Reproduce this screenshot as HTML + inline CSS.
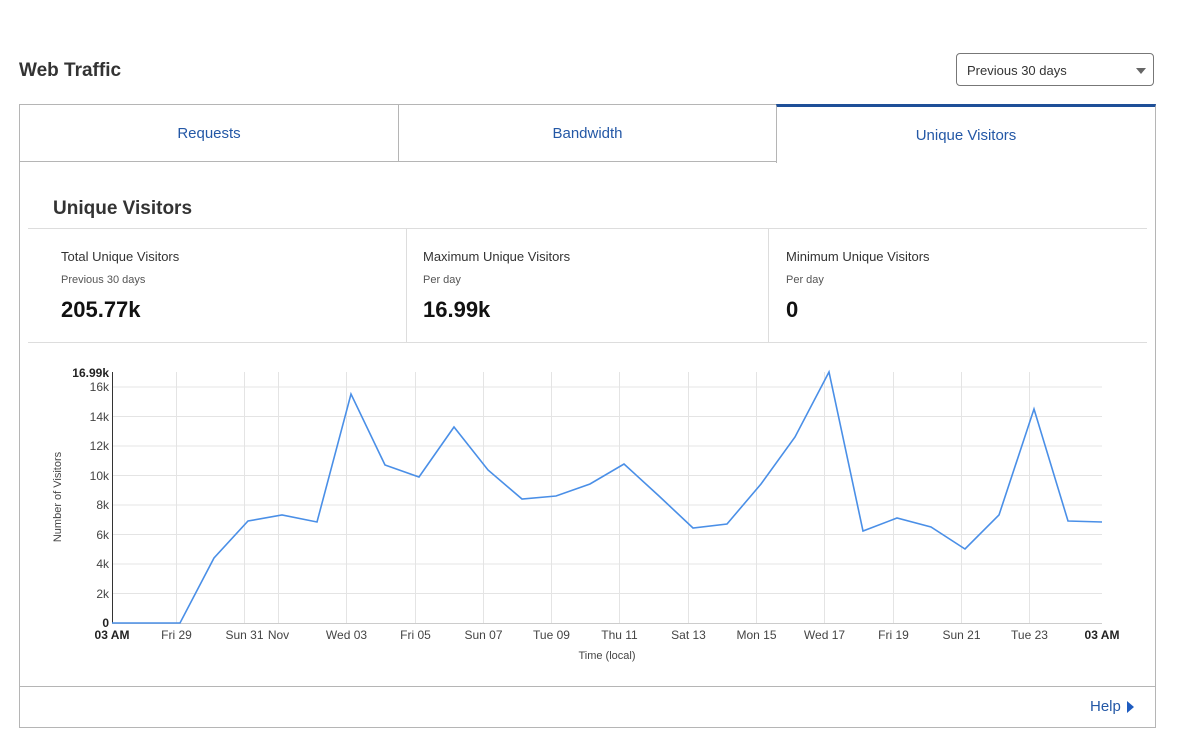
<!DOCTYPE html>
<html><head><meta charset="utf-8"><style>
body{margin:0;width:1180px;height:740px;background:#fff;font-family:"Liberation Sans",sans-serif;color:#222;position:relative;overflow:hidden}
.a{position:absolute}
.tab{position:absolute;top:104px;height:58px;box-sizing:border-box;border:1px solid #b5b5b5;color:#2458a6;font-size:15px;text-align:center;line-height:58px;background:#fff}
.lbl{font-size:13px;color:#333}
.sub{font-size:11px;color:#555}
.big{font-size:22px;color:#111;font-weight:bold}
</style></head><body>
<div class="a" style="left:19px;top:60px;font-size:19px;font-weight:bold;color:#333">Web Traffic</div>
<div class="a" style="left:956px;top:53px;width:198px;height:33px;border:1px solid #777;border-radius:4px;box-sizing:border-box"></div>
<div class="a" style="left:967px;top:63px;font-size:13px;color:#333">Previous 30 days</div>
<div class="a" style="left:1136px;top:68px;width:0;height:0;border-left:5px solid transparent;border-right:5px solid transparent;border-top:6px solid #666"></div>
<div class="a" style="left:19px;top:104px;width:1137px;height:624px;border:1px solid #b5b5b5;box-sizing:border-box"></div>
<div class="tab" style="left:19px;width:380px">Requests</div>
<div class="tab" style="left:398px;width:379px">Bandwidth</div>
<div class="tab" style="left:776px;width:380px;border-top:3px solid #1e4f98;border-bottom:none;line-height:58px;height:59px">Unique Visitors</div>
<div class="a" style="left:53px;top:198px;font-size:19px;font-weight:bold;color:#333">Unique Visitors</div>
<div class="a" style="left:28px;top:228px;width:1119px;border-top:1px solid #ddd"></div>
<div class="a" style="left:28px;top:342px;width:1119px;border-top:1px solid #ddd"></div>
<div class="a" style="left:406px;top:228px;height:114px;border-left:1px solid #ddd"></div>
<div class="a" style="left:768px;top:228px;height:114px;border-left:1px solid #ddd"></div>
<div class="a lbl" style="left:61px;top:249px">Total Unique Visitors</div>
<div class="a sub" style="left:61px;top:274px">Previous 30 days</div>
<div class="a big" style="left:61px;top:297px">205.77k</div>
<div class="a lbl" style="left:423px;top:249px">Maximum Unique Visitors</div>
<div class="a sub" style="left:423px;top:274px">Per day</div>
<div class="a big" style="left:423px;top:297px">16.99k</div>
<div class="a lbl" style="left:786px;top:249px">Minimum Unique Visitors</div>
<div class="a sub" style="left:786px;top:274px">Per day</div>
<div class="a big" style="left:786px;top:297px">0</div>
<svg class="a" style="left:0;top:0" width="1180" height="740" font-family="Liberation Sans, sans-serif">
<g stroke="#e4e4e4" stroke-width="1">
<line x1="112" x2="1102" y1="593.5" y2="593.5"/><line x1="112" x2="1102" y1="564" y2="564"/><line x1="112" x2="1102" y1="534.5" y2="534.5"/><line x1="112" x2="1102" y1="505" y2="505"/><line x1="112" x2="1102" y1="475.5" y2="475.5"/><line x1="112" x2="1102" y1="446" y2="446"/><line x1="112" x2="1102" y1="416.5" y2="416.5"/><line x1="112" x2="1102" y1="387" y2="387"/>
<line y1="372" y2="623" x1="176.5" x2="176.5"/><line y1="372" y2="623" x1="244.5" x2="244.5"/><line y1="372" y2="623" x1="278.5" x2="278.5"/><line y1="372" y2="623" x1="346.5" x2="346.5"/><line y1="372" y2="623" x1="415.5" x2="415.5"/><line y1="372" y2="623" x1="483.5" x2="483.5"/><line y1="372" y2="623" x1="551.5" x2="551.5"/><line y1="372" y2="623" x1="619.5" x2="619.5"/><line y1="372" y2="623" x1="688.5" x2="688.5"/><line y1="372" y2="623" x1="756.5" x2="756.5"/><line y1="372" y2="623" x1="824.5" x2="824.5"/><line y1="372" y2="623" x1="893.5" x2="893.5"/><line y1="372" y2="623" x1="961.5" x2="961.5"/><line y1="372" y2="623" x1="1029.5" x2="1029.5"/>
</g>
<line x1="112.5" x2="112.5" y1="372" y2="623" stroke="#333"/>
<line x1="112" x2="1102" y1="623.5" y2="623.5" stroke="#ccc"/>
<polyline fill="none" stroke="#4a8fe7" stroke-width="1.6" points="112,623 146,623 180,623 214,558 248,521 282,515 317,522 351,394 385,465 419,477 454,427 488,470 522,499 556,496 590,484 624,464 659,496 693,528 727,524 761,484 795,437 829,372 863,531 897,518 931,527 965,549 999,515 1034,409 1068,521 1102,522"/>
<g font-size="12" fill="#444" text-anchor="end">
<text x="109" y="377" font-weight="bold" fill="#222">16.99k</text>
<text x="109" y="391">16k</text><text x="109" y="421">14k</text><text x="109" y="450">12k</text><text x="109" y="480">10k</text><text x="109" y="509">8k</text><text x="109" y="539">6k</text><text x="109" y="568">4k</text><text x="109" y="598">2k</text><text x="109" y="627" font-weight="bold" fill="#222">0</text>
</g>
<g font-size="12" fill="#444" text-anchor="middle">
<text x="112" y="639" font-weight="bold" fill="#222">03 AM</text>
<text x="176.5" y="639">Fri 29</text><text x="244.5" y="639">Sun 31</text><text x="278.5" y="639">Nov</text><text x="346.5" y="639">Wed 03</text><text x="415.5" y="639">Fri 05</text><text x="483.5" y="639">Sun 07</text><text x="551.5" y="639">Tue 09</text><text x="619.5" y="639">Thu 11</text><text x="688.5" y="639">Sat 13</text><text x="756.5" y="639">Mon 15</text><text x="824.5" y="639">Wed 17</text><text x="893.5" y="639">Fri 19</text><text x="961.5" y="639">Sun 21</text><text x="1029.5" y="639">Tue 23</text>
<text x="1102" y="639" font-weight="bold" fill="#222">03 AM</text>
<text x="607" y="659" font-size="11">Time (local)</text>
<text transform="translate(61,497) rotate(-90)" font-size="11">Number of Visitors</text>
</g>
</svg>
<div class="a" style="left:19px;top:686px;width:1137px;border-top:1px solid #b5b5b5"></div>
<div class="a" style="left:1090px;top:698px;font-size:15px;color:#2458a6">Help</div>
<div class="a" style="left:1127px;top:701px;width:0;height:0;border-top:6px solid transparent;border-bottom:6px solid transparent;border-left:7px solid #1e5cc0"></div>
</body></html>
